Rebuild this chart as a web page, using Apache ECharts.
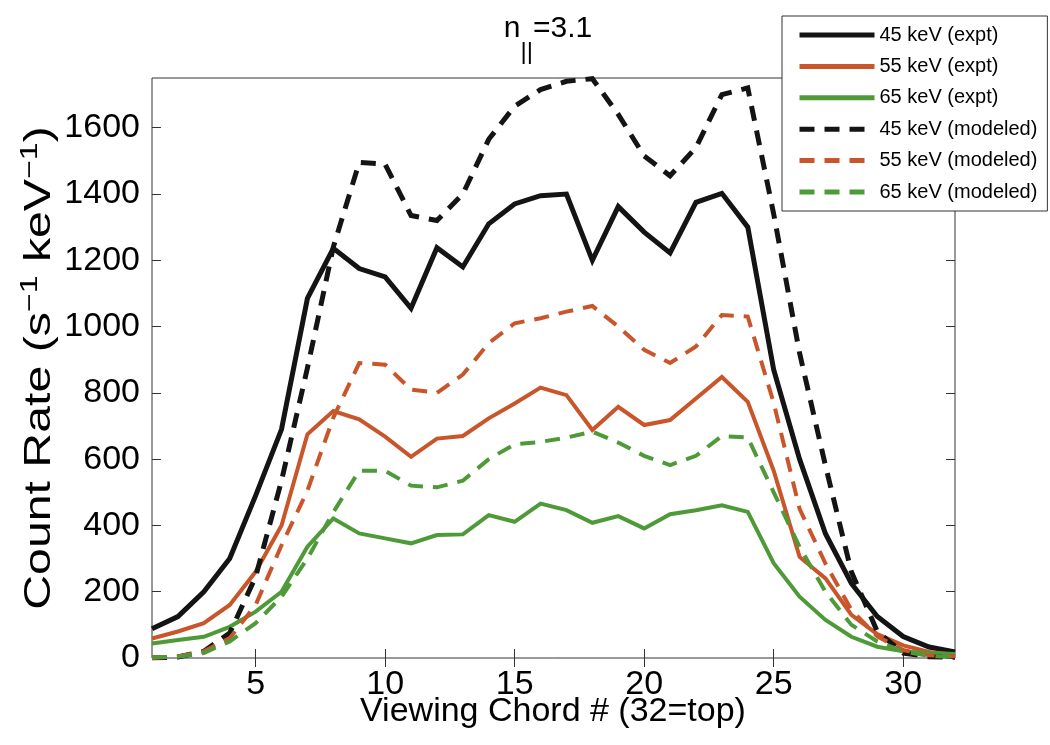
<!DOCTYPE html>
<html><head><meta charset="utf-8">
<script src="https://cdn.jsdelivr.net/npm/echarts@6/dist/echarts.min.js"></script>
<style>html,body{margin:0;padding:0;background:#fff}#c{width:1050px;height:745px}</style>
</head><body><div id="c"></div>
<script>
// ---- data ----
const chords = [1,2,3,4,5,6,7,8,9,10,11,12,13,14,15,16,17,18,19,20,21,22,23,24,25,26,27,28,29,30,31,32];
const kev45Expt = [88,125,200,300,490,690,1085,1236,1175,1150,1055,1238,1180,1310,1370,1395,1400,1200,1362,1285,1222,1375,1402,1300,870,600,375,225,125,65,33,18];
const kev55Expt = [59,80,105,160,260,400,675,745,720,668,607,662,670,723,768,816,793,688,758,703,718,783,848,773,565,305,240,130,72,38,18,10];
const kev65Expt = [44,54,64,94,140,200,336,421,376,361,346,371,373,431,411,466,446,408,428,391,434,446,461,441,286,185,115,64,34,20,15,12];
const kev45Model = [0,3,20,75,245,535,875,1240,1495,1490,1335,1320,1400,1565,1665,1715,1740,1748,1640,1515,1455,1540,1700,1720,1340,920,580,260,80,15,4,2];
const kev55Model = [0,5,20,60,160,340,505,725,890,885,810,800,855,950,1010,1025,1045,1062,1000,930,890,940,1035,1030,770,450,285,145,65,24,8,5];
const kev65Model = [2,4,15,50,105,185,300,440,565,565,520,515,535,600,645,652,665,683,650,610,582,610,670,665,500,335,200,100,50,20,6,3];
const seriesNames = ['45 keV (expt)','55 keV (expt)','65 keV (expt)','45 keV (modeled)','55 keV (modeled)','65 keV (modeled)'];
const xTicks = [5,10,15,20,25,30];
const yTicks = [0,200,400,600,800,1000,1200,1400,1600];

const BLACK = '#141414', ORANGE = '#c9552b', GREEN = '#4e9a38';
const FONT = 'Liberation Sans';
const pairs = arr => chords.map((c, i) => [c, arr[i]]);

function mk(name, arr, color, width, dashed) {
  return {
    name, type: 'line', data: pairs(arr), xAxisIndex: 0, yAxisIndex: 0,
    symbol: 'none', smooth: false, animation: false,
    lineStyle: { color, width, type: dashed ? [15, 10] : 'solid', cap: 'butt', join: 'miter' },
    itemStyle: { color }
  };
}

const tickCommon = { inside: true, length: 9, lineStyle: { color: '#333', width: 1 } };
const labelFont = { color: '#000', fontFamily: FONT, fontSize: 34, formatter: v => String(v) };

const chart = echarts.init(document.getElementById('c'), null, { renderer: 'canvas' });
chart.setOption({
  backgroundColor: '#fff',
  animation: false,
  grid: { left: 152, right: 95, top: 78, bottom: 87, show: true, borderColor: '#333', borderWidth: 1, backgroundColor: 'transparent' },
  xAxis: [
    { type: 'value', min: 1, max: 32, position: 'bottom',
      axisLine: { show: false }, splitLine: { show: false },
      axisTick: Object.assign({ customValues: xTicks }, tickCommon),
      axisLabel: Object.assign({ customValues: xTicks, margin: 10 }, labelFont) },
    { type: 'value', min: 1, max: 32, position: 'top',
      axisLine: { show: false }, splitLine: { show: false },
      axisTick: Object.assign({ customValues: xTicks }, tickCommon),
      axisLabel: { show: false } }
  ],
  yAxis: [
    { type: 'value', min: 0, max: 1750, position: 'left',
      axisLine: { show: false }, splitLine: { show: false },
      axisTick: Object.assign({ customValues: yTicks }, tickCommon),
      axisLabel: Object.assign({ customValues: yTicks, margin: 12 }, labelFont) },
    { type: 'value', min: 0, max: 1750, position: 'right',
      axisLine: { show: false }, splitLine: { show: false },
      axisTick: Object.assign({ customValues: yTicks }, tickCommon),
      axisLabel: { show: false } }
  ],
  legend: {
    left: 782, top: 16, orient: 'vertical',
    data: seriesNames,
    itemWidth: 75, itemHeight: 20, itemGap: 11.4,
    padding: [9, 10, 9, 15],
    backgroundColor: '#fff', borderColor: '#333', borderWidth: 1, borderRadius: 0,
    itemStyle: { opacity: 0, borderWidth: 0 },
    lineStyle: { width: 5 },
    textStyle: { color: '#000', fontFamily: FONT, fontSize: 20, lineHeight: 20 },
    selectedMode: false
  },
  graphic: [
    { type: 'text', x: 548, y: 14, z: 100,
      style: { text: '{n|n}{s|||}{n|=3.1}', align: 'center', verticalAlign: 'top',
        rich: {
          n: { fontFamily: FONT, fontSize: 30, lineHeight: 30, verticalAlign: 'top', fill: '#000' },
          s: { fontFamily: FONT, fontSize: 24, lineHeight: 24, padding: [26, 0, 0, 0], verticalAlign: 'top', fill: '#000' }
        } } },
    { type: 'text', x: 40, y: 368, rotation: Math.PI / 2, scaleX: 1.34, scaleY: 1, z: 100,
      style: { text: '{n|Count Rate (s}{p|−1}{n| keV}{p|−1}{n|)}', align: 'center', verticalAlign: 'middle',
        rich: {
          n: { fontFamily: FONT, fontSize: 36, lineHeight: 44, verticalAlign: 'middle', fill: '#000' },
          p: { fontFamily: FONT, fontSize: 24, lineHeight: 24, verticalAlign: 'top', fill: '#000' }
        } } },
    { type: 'text', x: 553, y: 712, z: 100,
      style: { text: 'Viewing Chord # (32=top)', align: 'center', verticalAlign: 'middle',
        fontFamily: FONT, fontSize: 34, fill: '#000' } }
  ],
  series: [
    mk(seriesNames[0], kev45Expt, BLACK, 5, false),
    mk(seriesNames[1], kev55Expt, ORANGE, 4, false),
    mk(seriesNames[2], kev65Expt, GREEN, 4, false),
    mk(seriesNames[3], kev45Model, BLACK, 5, true),
    mk(seriesNames[4], kev55Model, ORANGE, 4, true),
    mk(seriesNames[5], kev65Model, GREEN, 4, true)
  ]
});
</script></body></html>
